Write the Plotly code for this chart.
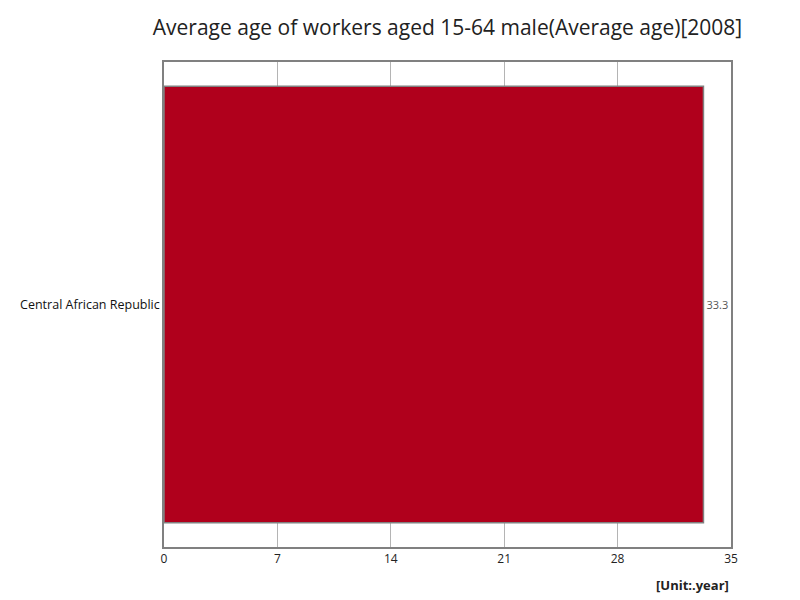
import plotly.graph_objects as go

countries = ["Central African Republic"]
ages = [33.3]
x_ticks = [0, 7, 14, 21, 28, 35]

fig = go.Figure()
fig.add_trace(go.Bar(
    y=countries,
    x=ages,
    orientation="h",
    marker=dict(color="#b0001c", line=dict(color="#808080", width=1.5)),
    text=[str(v) for v in ages],
    textposition="outside",
    textfont=dict(size=11, color="#555555"),
    constraintext="none",
    cliponaxis=True,
    width=0.9,
))

# the page sits 8px in from the window edge, so the figure is a bit smaller
fig.update_layout(
    width=792,
    height=592,
    plot_bgcolor="white",
    paper_bgcolor="white",
    margin=dict(l=156, r=69, t=54, b=53),
    font=dict(family="Open Sans, Noto Sans, sans-serif", color="#222222"),
    title=dict(
        text="Average age of workers aged 15-64 male(Average age)[2008]",
        x=0.5, xref="paper", y=0.966, yanchor="middle",
        font=dict(size=21, color="#222222"),
    ),
    showlegend=False,
)

fig.update_xaxes(
    range=[0, 35],
    tickvals=x_ticks,
    showgrid=True,
    gridcolor="#b4b4b4",
    gridwidth=1,
    showline=True,
    linecolor="#808080",
    linewidth=1.5,
    mirror=True,
    zeroline=False,
    ticks="",
    tickfont=dict(size=12, color="#222222"),
)
fig.update_yaxes(
    showline=True,
    linecolor="#808080",
    linewidth=1.5,
    mirror=True,
    ticks="",
    tickfont=dict(size=12.5, color="#111111"),
)

fig.add_annotation(
    text="<b>[Unit:.year]</b>",
    xref="paper", yref="paper",
    x=1, y=-0.055,
    xanchor="right", yanchor="top",
    showarrow=False,
    font=dict(size=13, color="#222222"),
)

fig.write_html("out.html")
